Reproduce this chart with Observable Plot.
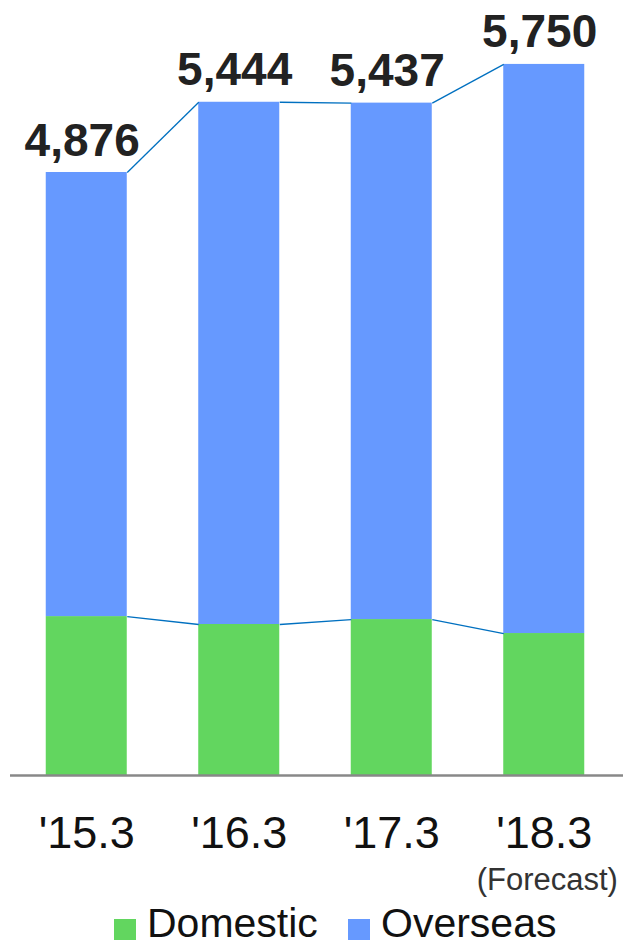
<!DOCTYPE html>
<html>
<head>
<meta charset="utf-8">
<script src="https://cdn.jsdelivr.net/npm/d3@7"></script>
<script src="https://cdn.jsdelivr.net/npm/@observablehq/plot@0.6"></script>
<style>
  body { margin: 0; background: #fff; font-family: "Liberation Sans", Arial, sans-serif; }
  #legend { position: relative; height: 46px; }
  .item { position: absolute; top: 0; display: flex; align-items: flex-end; }
  .sw { width: 22px; height: 21px; margin-right: 11px; margin-bottom: 6px; }
  .lab { font-size: 41px; line-height: 46px; color: #111; }
</style>
</head>
<body>
<div id="chart"></div>
<div id="legend"></div>
<script>
const periods = ["'15.3", "'16.3", "'17.3", "'18.3"];
const domestic = [1285, 1221, 1261, 1148];
const overseas = [3591, 4223, 4176, 4602];
const totals = [4876, 5444, 5437, 5750];
const seriesNames = ["Domestic", "Overseas"];
const seriesColors = ["#62D65F", "#6699FF"];
const forecastNote = "(Forecast)";

const hw = 0.2656;
const rows = periods.map((p, i) => ({
  i, p, dom: domestic[i], ovs: overseas[i], total: totals[i]
}));
const links = rows.slice(0, -1).map((r, k) => ({
  xa: r.i + hw, xb: rows[k + 1].i - hw,
  ta: r.total, tb: rows[k + 1].total,
  da: r.dom, db: rows[k + 1].dom
}));

const chart = Plot.plot({
  width: 623,
  height: 900,
  marginLeft: 10,
  marginRight: 3,
  marginTop: 33,
  marginBottom: 125,
  style: { fontFamily: "'Liberation Sans', Arial, sans-serif", background: "#fff" },
  x: { domain: [-0.5, 3.5], axis: null },
  y: { domain: [0, 6000], axis: null },
  marks: [
    Plot.rectY(rows, { x1: d => d.i - hw, x2: d => d.i + hw, y1: 0, y2: "dom", fill: seriesColors[0] }),
    Plot.rectY(rows, { x1: d => d.i - hw, x2: d => d.i + hw, y1: "dom", y2: d => d.dom + d.ovs, fill: seriesColors[1] }),
    Plot.link(links, { x1: "xa", x2: "xb", y1: "ta", y2: "tb", stroke: "#0070C0", strokeWidth: 1.3 }),
    Plot.link(links, { x1: "xa", x2: "xb", y1: "da", y2: "db", stroke: "#0070C0", strokeWidth: 1.3 }),
    Plot.ruleY([0], { stroke: "#888", strokeWidth: 2.5, x1: -0.5, x2: 3.52 }),
    Plot.text(rows, { x: d => d.i - 0.03, y: "total", text: d => d3.format(",")(d.total),
      lineAnchor: "bottom", dy: -17, fontSize: 46, fontWeight: "bold", fill: "#222" }),
    Plot.text(rows, { x: "i", y: 0, text: "p", lineAnchor: "bottom", dy: 72, fontSize: 45, fill: "#111" }),
    Plot.text([rows[3]], { x: d => d.i + 0.02, y: 0, text: () => forecastNote, lineAnchor: "bottom", dy: 114, fontSize: 31, fill: "#333" })
  ]
});
document.getElementById("chart").appendChild(chart);

const legend = document.getElementById("legend");
const lefts = [114, 348];
seriesNames.forEach((n, k) => {
  const it = document.createElement("div");
  it.className = "item";
  it.style.left = lefts[k] + "px";
  it.innerHTML = `<div class="sw" style="background:${seriesColors[k]}"></div><div class="lab">${n}</div>`;
  legend.appendChild(it);
});
</script>
</body>
</html>
